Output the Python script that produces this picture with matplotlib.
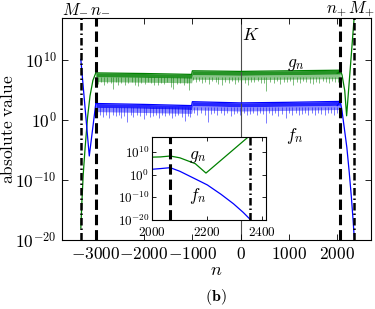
import numpy as np
import matplotlib
matplotlib.use("Agg")
import matplotlib.pyplot as plt
from matplotlib import ticker
import matplotlib.transforms as mtransforms

plt.rcParams['mathtext.fontset'] = 'cm'
plt.rcParams['font.family'] = ['DejaVu Serif']

# ---------------- data (log10 of absolute values) ----------------
n_Mm, n_nm, n_np, n_Mp = -3310, -3000, 2065, 2355
K_pos = 0

# plateau envelope
band_n = [-3000, -2000, -1015, -1000, 0, 1000, 2065]
g_band_top = [7.85, 7.75, 7.6, 8.2, 8.1, 8.2, 8.3]
g_band_mid = [7.2, 7.1, 6.95, 7.55, 7.45, 7.55, 7.65]
g_band_lo = [6.4, 6.3, 6.2, 6.8, 6.7, 6.8, 6.9]
f_band_top = [2.75, 2.6, 2.4, 3.05, 2.85, 2.95, 3.1]
f_band_mid = [2.1, 1.95, 1.75, 2.4, 2.2, 2.3, 2.45]
f_band_lo = [1.4, 1.25, 1.1, 1.7, 1.5, 1.6, 1.75]

# downward spikes in the plateau
g_spike_n = [-2960, -2900, -2820, -2760, -2680, -2640, -2590, -2530, -2470, -2400,
             -2330, -2260, -2190, -2120, -2060, -1990, -1920, -1860, -1790, -1720,
             -1650, -1590, -1520, -1450, -1400, -1320, -1250, -1180, -1120, -1060,
             -990, -930, -870, -800, -730, -660, -590, -520, -460, -390,
             -320, -250, -180, -120, -50, 10, 80, 150, 210, 280,
             350, 420, 480, 530, 610, 690, 750, 820, 890, 960,
             1020, 1090, 1160, 1230, 1290, 1360, 1430, 1500, 1560, 1630,
             1700, 1770, 1830, 1900, 1960, 2020]
g_spike_lo = [6.0, 6.3, 5.8, 6.2, 6.1, 5.2, 6.3, 5.9, 6.2, 5.8,
              6.1, 6.3, 5.9, 5.7, 6.2, 6.0, 6.3, 6.1, 5.9, 5.8,
              6.2, 6.0, 6.3, 5.5, 5.1, 6.0, 6.2, 5.8, 6.1, 5.0,
              6.6, 6.3, 6.5, 6.1, 6.4, 6.0, 6.5, 6.3, 6.0, 5.9,
              6.4, 6.2, 6.5, 6.0, 6.3, 6.4, 6.2, 5.8, 6.4, 6.3,
              6.5, 6.1, 6.2, 4.9, 6.4, 6.2, 6.5, 6.0, 6.4, 6.3,
              6.5, 5.9, 6.3, 6.1, 6.5, 6.4, 6.2, 6.0, 6.4, 6.2,
              6.5, 6.3, 6.1, 6.5, 6.4, 6.3]
f_spike_n = [-2970, -2910, -2850, -2780, -2720, -2650, -2590, -2520, -2470, -2410,
             -2350, -2280, -2220, -2150, -2080, -2010, -1950, -1880, -1820, -1750,
             -1700, -1630, -1560, -1490, -1430, -1360, -1290, -1220, -1160, -1090,
             -1040, -970, -900, -830, -740, -680, -620, -550, -480, -410,
             -350, -280, -210, -140, -80, -10, 60, 130, 190, 260,
             330, 400, 460, 530, 590, 650, 720, 780, 860, 940,
             1000, 1070, 1140, 1200, 1270, 1340, 1400, 1470, 1540, 1600,
             1670, 1740, 1800, 1870, 1930, 1990, 2040]
f_spike_lo = [0.6, 0.9, 0.5, 0.8, 0.3, 0.9, 0.6, 0.8, 0.4, 0.7,
              -0.3, 0.8, 0.5, 0.9, 0.6, 0.2, 0.8, 0.5, 0.7, 0.9,
              0.3, 0.8, 0.6, 0.9, 0.4, 0.7, 0.8, 0.5, -0.2, 0.7,
              0.5, 1.2, 0.9, 1.1, 0.8, -0.3, 1.0, 1.2, 0.9, 1.1,
              0.8, 1.2, 0.7, 1.0, 1.1, 0.9, 1.2, 0.8, 1.0, 1.1,
              0.9, 1.2, 1.0, -0.5, 1.1, 0.9, 1.2, 0.7, 1.0, 0.4,
              1.1, 0.9, 1.2, 0.8, 1.0, 1.2, 0.9, 1.1, 0.8, 1.2,
              1.0, 0.9, 1.2, 1.1, 0.8, 1.2, 1.1]

# left edge segments
g_left_n = [-3310, -3290, -3260, -3220, -3170, -3120, -3060, -3000]
g_left = [-18.0, -14.0, -9.0, -4.5, 0.5, 4.0, 6.6, 7.85]
f_left_n = [-3310, -3135, -3000]
f_left = [10.1, -6.0, 2.75]

# right edge segments
g_right_n = [2000, 2030, 2065, 2100, 2156, 2195, 2360]
g_right = [7.8, 7.9, 8.3, 7.5, 4.9, 0.7, 18.0]
f_right_n = [2000, 2030, 2065, 2100, 2174, 2200, 2250, 2295, 2330, 2360]
f_right = [2.4, 2.7, 3.1, 1.5, -3.0, -4.6, -8.8, -13.0, -16.8, -20.5]

x_ticks = [-3000, -2000, -1000, 0, 1000, 2000]
y_ticks = [-20, -10, 0, 10]
inset_x_ticks = [2000, 2200, 2400]

GREEN = '#008000'
BLUE = '#0000ff'


def p10(a):
    return 10.0 ** np.asarray(a, dtype=float)


fig = plt.figure(figsize=(3.75, 3.09), dpi=100)
ax = fig.add_axes([62 / 375, 69 / 309, 309 / 375, 222 / 309])

# curves
ax.fill_between(band_n, p10(g_band_mid), p10(g_band_top), color=GREEN, alpha=0.85, lw=0)
ax.fill_between(band_n, p10(g_band_lo), p10(g_band_mid), color=GREEN, alpha=0.45, lw=0)
ax.fill_between(band_n, p10(f_band_mid), p10(f_band_top), color=BLUE, alpha=0.85, lw=0)
ax.fill_between(band_n, p10(f_band_lo), p10(f_band_mid), color=BLUE, alpha=0.45, lw=0)
ax.plot(band_n, p10(g_band_top), color=GREEN, lw=0.9)
ax.plot(band_n, p10(f_band_top), color=BLUE, lw=0.9)
ax.vlines(g_spike_n, p10(g_spike_lo), 10 ** 7.2, color=GREEN, lw=0.6, alpha=0.6)
ax.vlines(f_spike_n, p10(f_spike_lo), 10 ** 2.1, color=BLUE, lw=0.6, alpha=0.6)
ax.plot(g_left_n, p10(g_left), color=GREEN, lw=0.9)
ax.plot(f_left_n, p10(f_left), color=BLUE, lw=0.9)
ax.plot(g_right_n, p10(g_right), color=GREEN, lw=0.9)
ax.plot(f_right_n, p10(f_right), color=BLUE, lw=0.9)

# reference lines
ax.axvline(K_pos, color='0.3', lw=0.8, zorder=1)
dashed = (0, (3.4, 1.6))
dashdot = (0, (3.0, 1.2, 0.6, 1.2))
for v in (n_nm, n_np):
    ax.axvline(v, color='k', lw=2.2, ls=dashed, zorder=5)
for v in (n_Mm, n_Mp):
    ax.axvline(v, color='k', lw=1.8, ls=dashdot, zorder=5)

ax.set_xlim(-3700, 2700)
ax.set_yscale('log')
ax.set_ylim(1e-20, 1e17)
ax.set_xticks(x_ticks)
ax.xaxis.set_major_formatter(ticker.FuncFormatter(lambda v, p: r'$\mathrm{%d}$' % v))
ax.set_yticks(p10(y_ticks))
ax.yaxis.set_major_formatter(ticker.FuncFormatter(lambda v, p: r'$\mathrm{10^{%d}}$' % round(np.log10(v))))
ax.yaxis.set_minor_locator(ticker.NullLocator())
ax.tick_params(direction='in', top=True, right=True, labelsize=12.5, length=4, width=0.6, pad=4)
ax.set_xlabel(r'$n$', fontsize=13, labelpad=-1)
ax.set_ylabel(r'$\mathrm{absolute\ value}$', fontsize=12.5, labelpad=-1)

trans = mtransforms.blended_transform_factory(ax.transData, ax.transAxes)
for xx, lab in ((-3420, r'$M_{-}$'), (-2905, r'$n_{-}$'), (1975, r'$n_{+}$'), (2500, r'$M_{+}$')):
    ax.text(xx, 1.022, lab, transform=trans, ha='center', va='baseline', fontsize=12)
ax.text(30, 10 ** 12.6, r'$K$', ha='left', va='bottom', fontsize=12.5)
ax.text(1150, 10 ** 9.3, r'$g_n$', ha='center', va='center', fontsize=12.5)
ax.text(1130, 10 ** -2.6, r'$f_n$', ha='center', va='center', fontsize=12.5)

fig.text(216 / 375, 1 - 297 / 309, r'$\mathbf{(b)}$', ha='center', va='center', fontsize=11.5)

# inset
axi = fig.add_axes([152.3 / 375, (309 - 219.5) / 309, 113.4 / 375, 83 / 309])
axi.plot(g_right_n, p10(g_right), color=GREEN, lw=0.9)
axi.plot(f_right_n, p10(f_right), color=BLUE, lw=0.9)
axi.axvline(n_np, color='k', lw=2.2, ls=dashed, zorder=5)
axi.axvline(n_Mp, color='k', lw=1.8, ls=dashdot, zorder=5)
axi.set_xlim(2000, 2412)
axi.set_yscale('log')
axi.set_ylim(1e-20, 1e17)
axi.set_xticks(inset_x_ticks)
axi.xaxis.set_major_formatter(ticker.FuncFormatter(lambda v, p: r'$\mathrm{%d}$' % v))
axi.set_yticks(p10(y_ticks))
axi.yaxis.set_major_formatter(ticker.FuncFormatter(lambda v, p: r'$\mathrm{10^{%d}}$' % round(np.log10(v))))
axi.yaxis.set_minor_locator(ticker.NullLocator())
axi.tick_params(direction='in', top=True, right=True, labelsize=9.5, length=3, width=0.6, pad=2)
axi.tick_params(axis='x', pad=4.5)
for lbl in axi.get_yticklabels():
    lbl.set_verticalalignment('center_baseline')
axi.text(2164, 10 ** 8.3, r'$g_n$', ha='center', va='center', fontsize=12.5)
axi.text(2166, 10 ** -9.5, r'$f_n$', ha='center', va='center', fontsize=12.5)

fig.savefig('out.png', dpi=100)
